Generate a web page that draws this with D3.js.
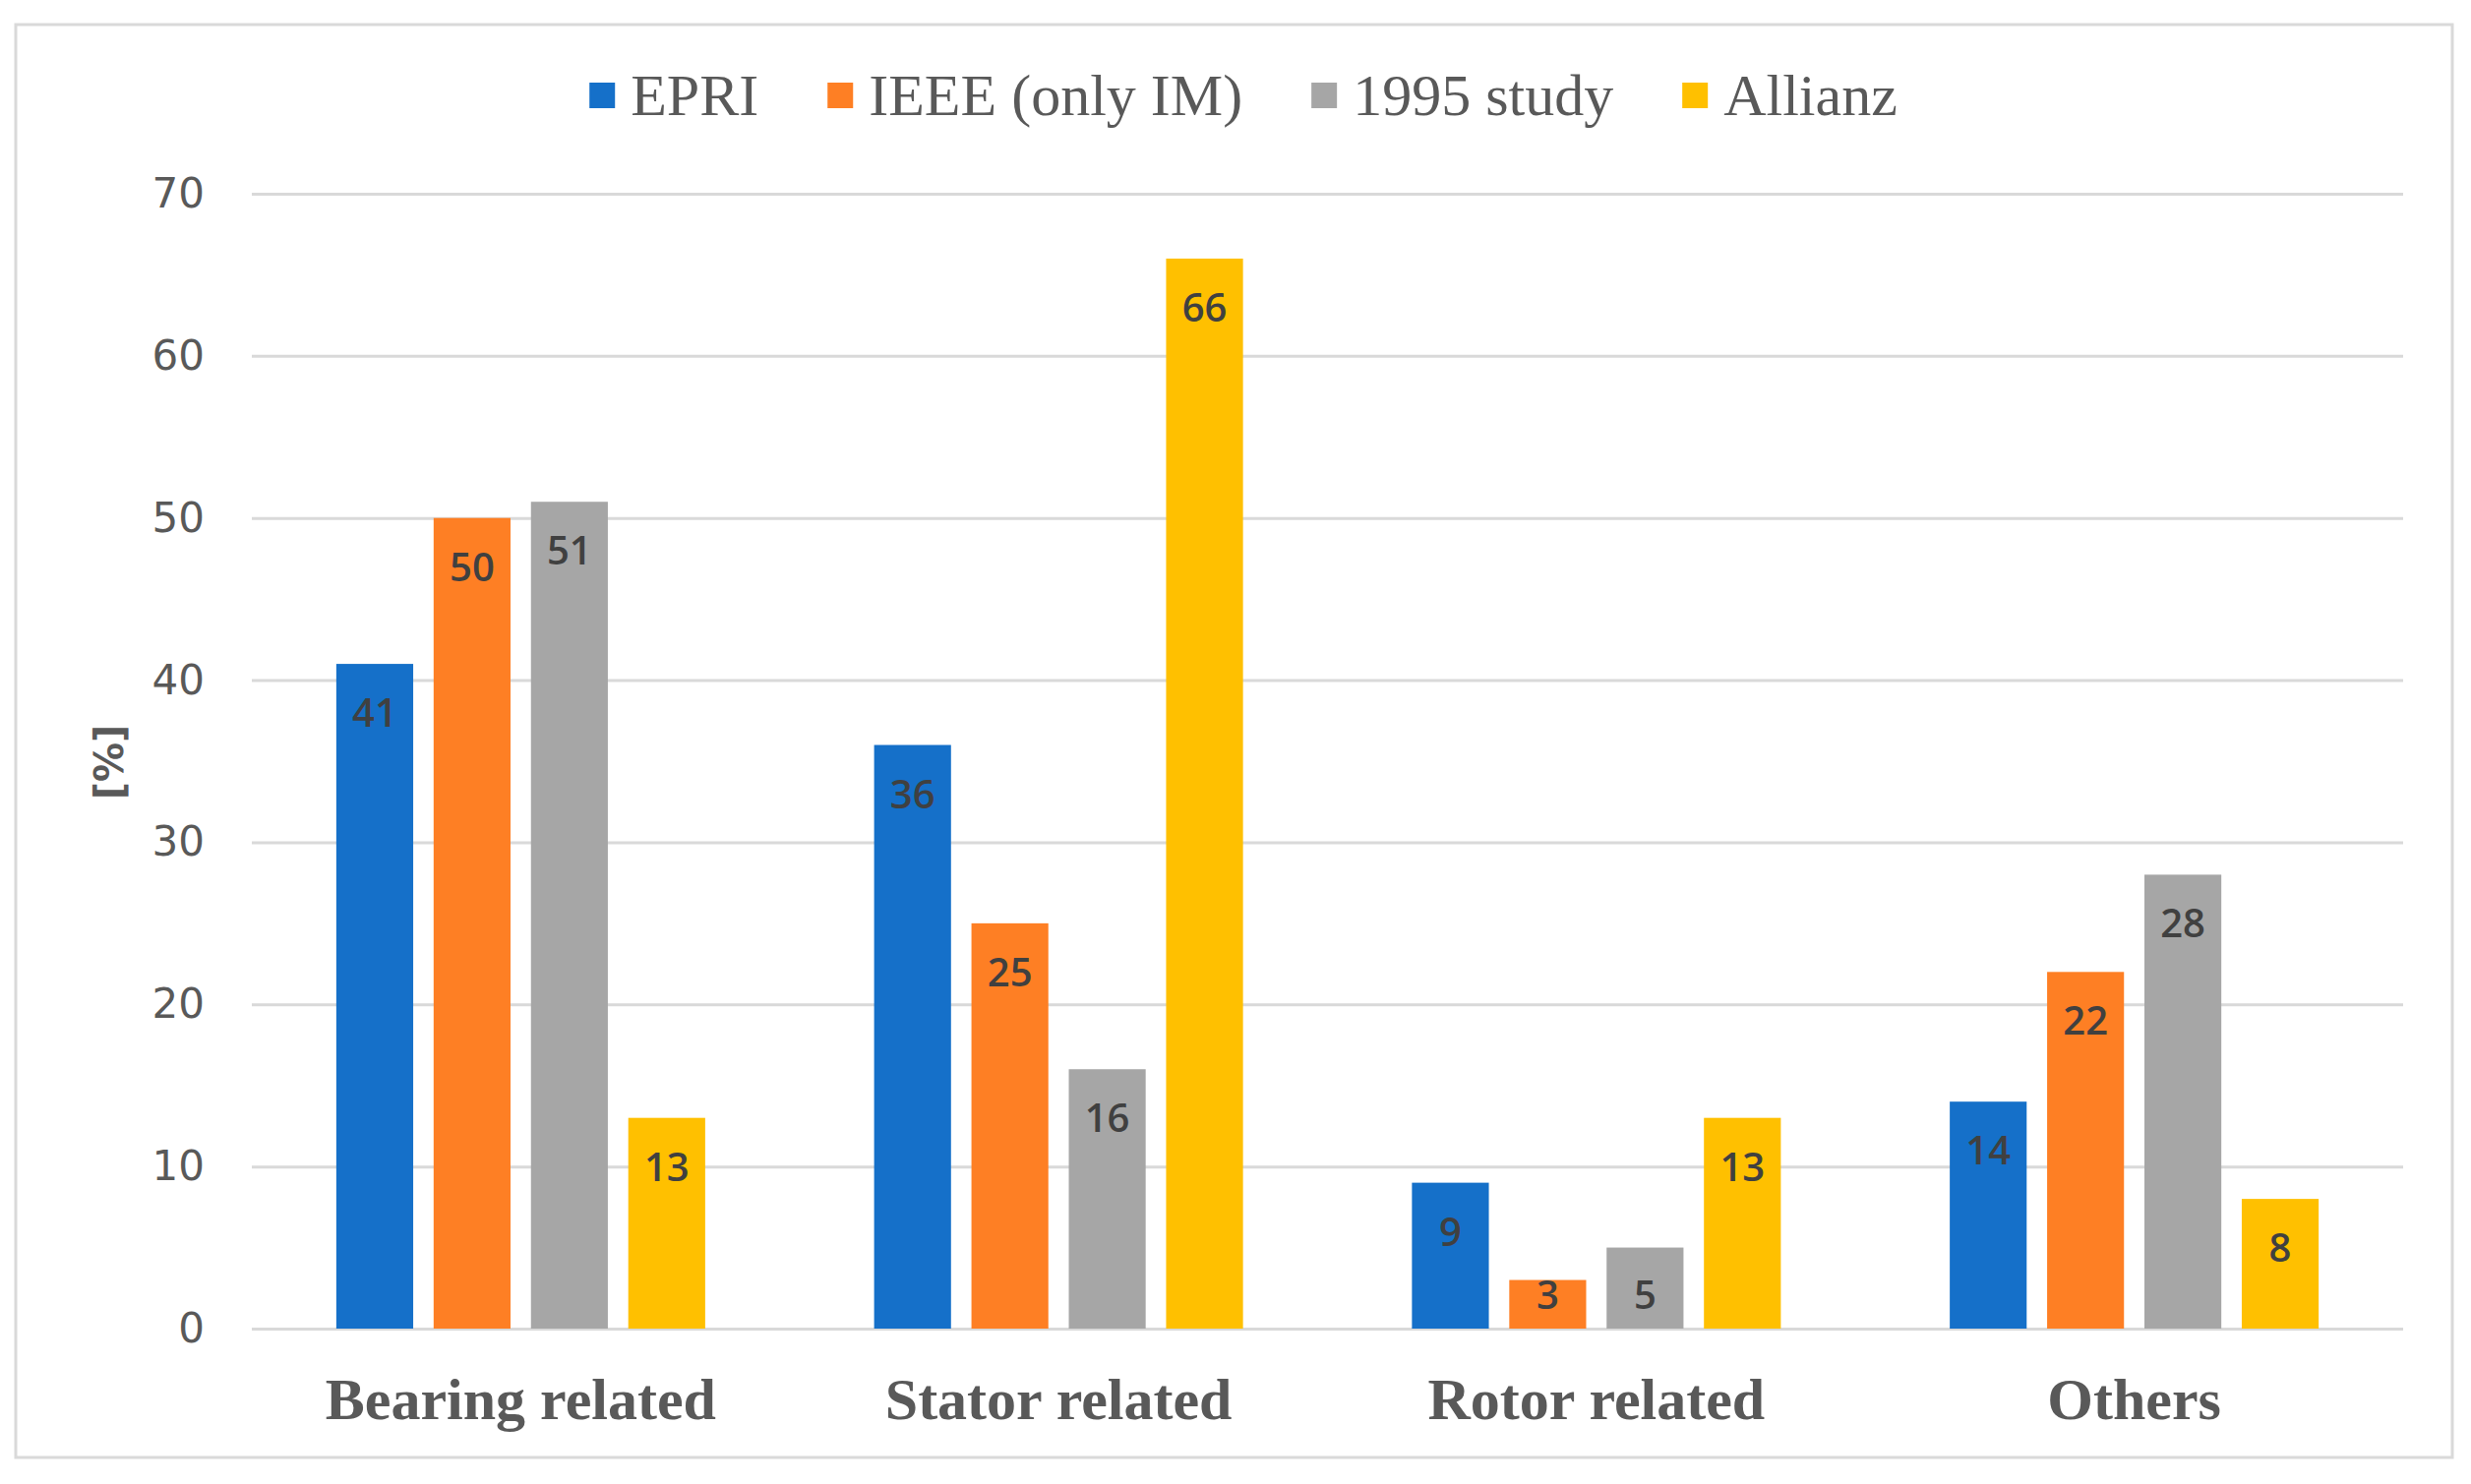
<!DOCTYPE html>
<html>
<head>
<meta charset="utf-8">
<script src="https://cdnjs.cloudflare.com/ajax/libs/d3/7.8.5/d3.min.js"></script>
<style>
  body { margin: 0; background: #fff; }
</style>
</head>
<body>
<svg id="chart"></svg>
<script>
// data
var categories = ["Bearing related", "Stator related", "Rotor related", "Others"];
var series = ["EPRI", "IEEE (only IM)", "1995 study", "Allianz"];
var epri = [41, 36, 9, 14];
var ieee = [50, 25, 3, 22];
var study1995 = [51, 16, 5, 28];
var allianz = [13, 66, 13, 8];
var yTicks = [0, 10, 20, 30, 40, 50, 60, 70];
var colors = ["#1570c9", "#fe7f24", "#a6a6a6", "#ffc000"];

var values = [epri, ieee, study1995, allianz];

// set the dimensions and margins of the graph
var W = 2512, H = 1509;
var margin = {top: 197, right: 69, bottom: 158, left: 256},
    width = W - margin.left - margin.right,
    height = H - margin.top - margin.bottom;

var svg = d3.select("#chart")
    .attr("width", W)
    .attr("height", H);

// outer frame
svg.append("rect")
    .attr("x", 16).attr("y", 25)
    .attr("width", 2477).attr("height", 1457)
    .attr("fill", "none")
    .attr("stroke", "#d9d9d9")
    .attr("stroke-width", 3);

var g = svg.append("g")
    .attr("transform", "translate(" + margin.left + "," + margin.top + ")");

// scales
var x0 = d3.scaleBand()
    .domain(categories)
    .range([0, width])
    .padding(0);

var groupSpan = 375;
var x1 = d3.scaleBand()
    .domain(series)
    .range([(x0.bandwidth() - groupSpan) / 2, (x0.bandwidth() + groupSpan) / 2])
    .paddingInner(0.21)
    .paddingOuter(0);

var y = d3.scaleLinear()
    .domain([0, 70])
    .range([height, 0]);

// gridlines + y tick labels
var yAxis = g.append("g")
    .call(d3.axisLeft(y).tickValues(yTicks).tickSize(-width).tickPadding(48));
yAxis.select(".domain").remove();
yAxis.selectAll(".tick line")
    .attr("stroke", "#d9d9d9")
    .attr("stroke-width", 3);
yAxis.selectAll(".tick text")
    .attr("font-family", "'DejaVu Sans', sans-serif")
    .attr("font-size", 42)
    .attr("fill", "#595959");

// y title
svg.append("text")
    .attr("transform", "translate(125,775) rotate(-90)")
    .attr("text-anchor", "middle")
    .attr("font-family", "'DejaVu Sans', sans-serif")
    .attr("font-weight", "bold")
    .attr("font-size", 40)
    .attr("fill", "#595959")
    .text("[%]");

// bars
var groups = g.selectAll(".grp")
    .data(categories)
    .enter()
    .append("g")
    .attr("class", "grp")
    .attr("transform", function(d) { return "translate(" + x0(d) + ",0)"; });

groups.selectAll("rect")
    .data(function(d, i) {
        return series.map(function(s, j) { return {s: s, v: values[j][i], c: colors[j]}; });
    })
    .enter()
    .append("rect")
    .attr("x", function(d) { return x1(d.s); })
    .attr("y", function(d) { return y(d.v); })
    .attr("width", x1.bandwidth())
    .attr("height", function(d) { return height - y(d.v); })
    .attr("fill", function(d) { return d.c; });

// value labels, inside end
groups.selectAll(".val")
    .data(function(d, i) {
        return series.map(function(s, j) { return {s: s, v: values[j][i]}; });
    })
    .enter()
    .append("text")
    .attr("class", "val")
    .attr("x", function(d) { return x1(d.s) + x1.bandwidth() / 2; })
    .attr("y", function(d) { return Math.min(y(d.v) + 64, height - 20); })
    .attr("text-anchor", "middle")
    .attr("font-family", "'Open Sans', sans-serif")
    .attr("font-weight", 600)
    .attr("font-size", 40)
    .attr("fill", "#404040")
    .text(function(d) { return d.v; });

// category labels
g.selectAll(".cat")
    .data(categories)
    .enter()
    .append("text")
    .attr("class", "cat")
    .attr("x", function(d) { return x0(d) + x0.bandwidth() / 2; })
    .attr("y", height + 92)
    .attr("text-anchor", "middle")
    .attr("font-family", "'Liberation Serif', 'Times New Roman', serif")
    .attr("font-weight", "bold")
    .attr("font-size", 60)
    .attr("fill", "#595959")
    .text(function(d) { return d; });

// legend
var legend = svg.append("g");
var items = legend.selectAll(".item")
    .data(series)
    .enter()
    .append("g")
    .attr("class", "item");

items.append("rect")
    .attr("x", 0).attr("y", 84)
    .attr("width", 26).attr("height", 26)
    .attr("fill", function(d, i) { return colors[i]; });

items.append("text")
    .attr("x", 42)
    .attr("y", 117)
    .attr("font-family", "'Liberation Serif', 'Times New Roman', serif")
    .attr("font-size", 60)
    .attr("fill", "#595959")
    .text(function(d) { return d; });

var pos = 0;
items.each(function() {
    var it = d3.select(this);
    it.attr("transform", "translate(" + pos + ",0)");
    pos += 42 + it.select("text").node().getComputedTextLength() + 70;
});
var totalW = pos - 70;
legend.attr("transform", "translate(" + (1264 - totalW / 2) + ",0)");
</script>
</body>
</html>
